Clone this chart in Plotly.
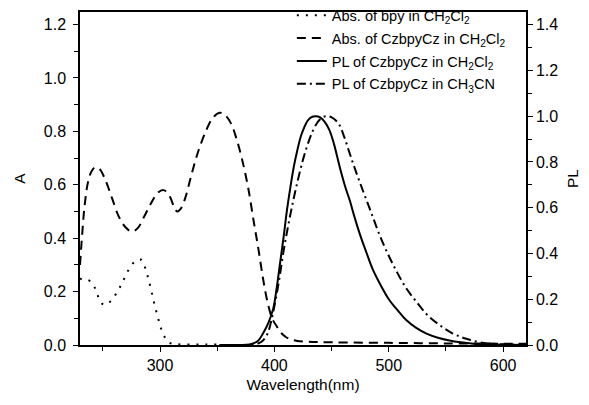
import plotly.graph_objects as go

# Absorption of bpy in CH2Cl2 (left axis, A)
bpy_x = [230, 232, 236, 240, 244, 248, 252, 257, 262, 266, 270, 275, 279, 283, 286, 289, 292, 295, 298, 301, 304, 307, 310, 315, 320, 330, 340, 350]
bpy_a = [0.25, 0.245, 0.245, 0.235, 0.205, 0.16, 0.15, 0.165, 0.195, 0.225, 0.26, 0.3, 0.315, 0.32, 0.3, 0.26, 0.21, 0.155, 0.105, 0.06, 0.03, 0.012, 0.005, 0.003, 0.002, 0.002, 0.002, 0.002]

# Absorption of CzbpyCz in CH2Cl2 (left axis, A)
cz_x = [230, 232, 234, 237, 240, 243, 247, 252, 258, 264, 270, 275, 280, 286, 292, 298, 303, 308, 312, 315, 318, 322, 327, 333, 340, 346, 352, 357, 362, 367, 372, 377, 382, 386, 390, 394, 398, 402, 406, 410, 415, 420, 430, 450, 500, 550, 600, 620]
cz_a = [0.30, 0.42, 0.52, 0.61, 0.65, 0.665, 0.66, 0.62, 0.55, 0.48, 0.44, 0.425, 0.435, 0.48, 0.53, 0.57, 0.58, 0.56, 0.52, 0.50, 0.51, 0.55, 0.63, 0.72, 0.80, 0.85, 0.87, 0.86, 0.83, 0.77, 0.69, 0.59, 0.46, 0.36, 0.25, 0.16, 0.10, 0.07, 0.045, 0.03, 0.02, 0.015, 0.012, 0.01, 0.008, 0.006, 0.005, 0.005]

# PL of CzbpyCz in CH2Cl2 (right axis, normalized)
pl1_x = [352, 360, 370, 378, 382, 386, 390, 395, 399, 402, 405, 408, 411, 414, 417, 420, 423, 426, 429, 432, 436, 440, 444, 448, 452, 457, 462, 466, 470, 475, 480, 486, 492, 500, 508, 515, 524, 533, 543, 553, 563, 574, 590, 620]
pl1_y = [0.0, 0.0, 0.0, 0.002, 0.008, 0.02, 0.05, 0.1, 0.16, 0.25, 0.36, 0.47, 0.59, 0.69, 0.78, 0.85, 0.91, 0.95, 0.98, 0.995, 1.0, 0.995, 0.975, 0.94, 0.88, 0.78, 0.69, 0.63, 0.56, 0.48, 0.41, 0.33, 0.27, 0.2, 0.15, 0.11, 0.075, 0.05, 0.032, 0.02, 0.012, 0.006, 0.002, 0.0]

# PL of CzbpyCz in CH3CN (right axis, normalized)
pl2_x = [352, 370, 385, 390, 394, 397, 400, 404, 408, 412, 416, 420, 425, 430, 434, 438, 442, 446, 450, 454, 457, 461, 465, 469, 474, 480, 486, 492, 499, 507, 515, 524, 534, 545, 556, 568, 582, 600, 620]
pl2_y = [0.0, 0.0, 0.005, 0.02, 0.05, 0.1, 0.17, 0.28, 0.41, 0.52, 0.62, 0.71, 0.81, 0.89, 0.94, 0.975, 0.995, 1.0, 0.995, 0.98, 0.96, 0.91, 0.85, 0.79, 0.72, 0.64, 0.56, 0.48, 0.4, 0.32, 0.25, 0.19, 0.13, 0.085, 0.05, 0.027, 0.01, 0.003, 0.0]

names = [
    "Abs. of bpy in CH<sub>2</sub>Cl<sub>2</sub>",
    "Abs. of CzbpyCz in CH<sub>2</sub>Cl<sub>2</sub>",
    "PL of CzbpyCz in CH<sub>2</sub>Cl<sub>2</sub>",
    "PL of CzbpyCz in CH<sub>3</sub>CN",
]

x_ticks = [300, 400, 500, 600]
left_ticks = [0.0, 0.2, 0.4, 0.6, 0.8, 1.0, 1.2]
right_ticks = [0.0, 0.2, 0.4, 0.6, 0.8, 1.0, 1.2, 1.4]

FONT = "Liberation Sans, Arial, sans-serif"

fig = go.Figure()
fig.add_trace(go.Scatter(x=bpy_x, y=bpy_a, mode="lines", name=names[0], legendgroup="g1",
                         line=dict(color="black", width=2, dash="2px,7px", shape="spline")))
fig.add_trace(go.Scatter(x=cz_x, y=cz_a, mode="lines", name=names[1], legendgroup="g2",
                         line=dict(color="black", width=2, dash="9px,6px", shape="spline")))
fig.add_trace(go.Scatter(x=pl1_x, y=pl1_y, mode="lines", name=names[2], yaxis="y2", legendgroup="g3",
                         line=dict(color="black", width=2, shape="spline")))
fig.add_trace(go.Scatter(x=pl2_x, y=pl2_y, mode="lines", name=names[3], yaxis="y2", legendgroup="g4",
                         line=dict(color="black", width=2, dash="9px,4px,2px,4px", shape="spline")))

axis_common = dict(showline=True, linecolor="black", linewidth=1.5, ticks="outside",
                   ticklen=5, tickwidth=1.2, tickcolor="black", showgrid=False, zeroline=False,
                   tickfont=dict(family=FONT, size=16, color="black"))

fig.update_layout(
    width=589, height=405,
    margin=dict(l=80, r=63, t=12, b=60, autoexpand=False),
    paper_bgcolor="white", plot_bgcolor="white",
    font=dict(family=FONT, color="black"),
    showlegend=True,
    legend=dict(x=0.475, y=1.038, xanchor="left", yanchor="top", bgcolor="rgba(0,0,0,0)",
                font=dict(family=FONT, size=14.5, color="black"), tracegroupgap=1,
                itemwidth=30),
    xaxis=dict(range=[230, 620], tickvals=x_ticks, mirror=True,
               title=dict(text="Wavelength(nm)", font=dict(family=FONT, size=15.5, color="black"), standoff=6),
               minor=dict(ticks="outside", dtick=50, tick0=250, ticklen=4, tickcolor="black"),
               **axis_common),
    yaxis=dict(range=[0, 1.247], tickvals=left_ticks, tickformat=".1f", ticklabelstandoff=4,
               title=dict(text="A", font=dict(family=FONT, size=15.5, color="black"), standoff=14),
               minor=dict(ticks="outside", dtick=0.1, tick0=0, ticklen=4, tickcolor="black"),
               **axis_common),
    yaxis2=dict(range=[0, 1.455], tickvals=right_ticks, tickformat=".1f", overlaying="y", side="right",
                title=dict(text="PL", font=dict(family=FONT, size=15.5, color="black"), standoff=10),
                minor=dict(ticks="outside", dtick=0.1, tick0=0, ticklen=4, tickcolor="black"),
                **axis_common),
)

fig.write_html("out.html")
